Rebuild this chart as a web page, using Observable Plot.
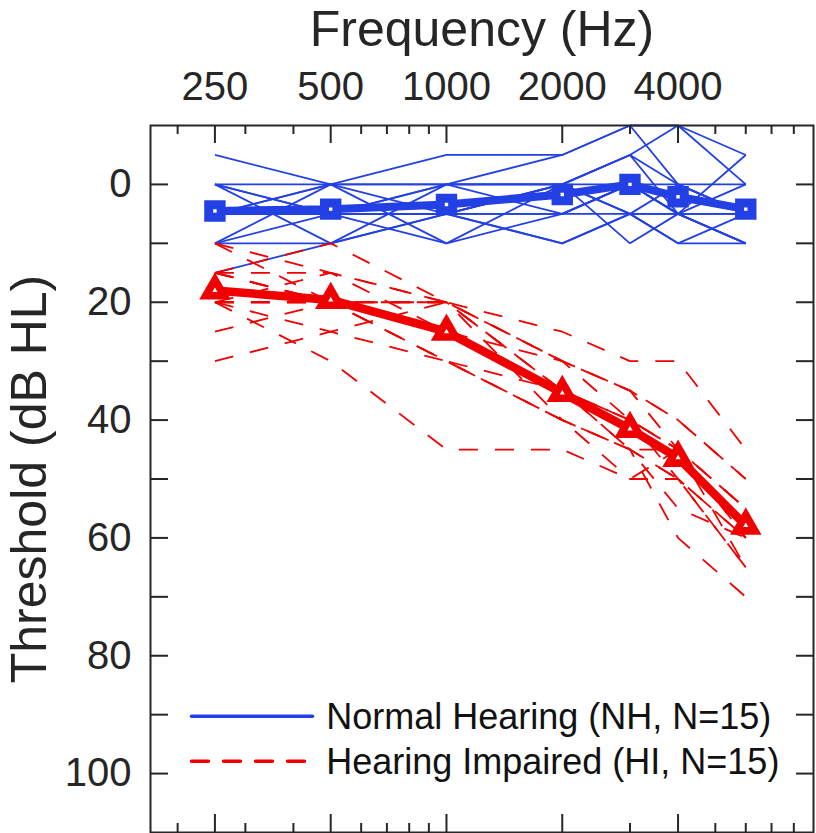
<!DOCTYPE html>
<html>
<head>
<meta charset="utf-8">
<script src="https://cdn.jsdelivr.net/npm/d3@7"></script>
<script src="https://cdn.jsdelivr.net/npm/@observablehq/plot@0.6"></script>
<style>
  html, body { margin: 0; padding: 0; background: #fff; }
  #chart svg { display: block; }
</style>
</head>
<body>
<div id="chart"></div>
<script>
// ---- data ----
const frequencies = [250, 500, 1000, 2000, 3000, 4000, 6000];
const xTickLabels = [250, 500, 1000, 2000, 4000];
const xMinorTicks = [200, 300, 400, 600, 700, 800, 900, 3000, 5000, 6000, 7000, 8000];
const yTickLabels = [0, 20, 40, 60, 80, 100];
const yTicks = [0, 10, 20, 30, 40, 50, 60, 70, 80, 90, 100];

const nhMean = [4.5, 4.2, 3.4, 1.7, 0.0, 2.1, 4.2];
const hiMean = [18.0, 19.6, 25.0, 35.4, 41.5, 46.4, 57.9];

const nhSubjects = [
  [-5, 0, -5, -5, -10, -10, -5],
  [0, 0, 0, 0, -5, -10, 0],
  [0, 10, 0, 5, 0, 5, 10],
  [5, 0, 0, -5, -10, 0, 5],
  [5, 5, 5, 0, 5, 5, 5],
  [5, 5, 5, 5, 0, 0, 0],
  [5, 5, 5, 10, 5, 5, 10],
  [10, 0, 5, 0, 10, 5, 10],
  [10, 10, 5, 5, 0, 5, 5],
  [10, 5, 5, 10, 5, 0, 5],
  [15, 10, 5, 0, -5, 5, 0],
  [0, 5, 10, 5, 5, 10, 10],
  [0, 5, 0, 0, 0, 5, -5],
  [5, 0, 10, 0, 5, 10, 5],
  [5, 5, 0, 0, -5, 0, 5]
];

const hiSubjects = [
  [15, 10, 20, 25, 30, 30, 45],
  [10, 15, 20, 30, 35, 40, 50],
  [15, 15, 20, 30, 35, 45, 55],
  [20, 15, 25, 30, 40, 45, 55],
  [20, 20, 20, 35, 40, 45, 60],
  [20, 20, 25, 35, 40, 50, 60],
  [15, 20, 20, 35, 45, 50, 60],
  [15, 20, 20, 40, 45, 50, 65],
  [20, 20, 30, 40, 45, 55, 60],
  [15, 20, 30, 40, 50, 50, 65],
  [20, 30, 45, 45, 50, 45, 55],
  [30, 25, 30, 40, 45, 60, 70],
  [10, 20, 20, 30, 35, 40, 50],
  [20, 25, 20, 35, 40, 45, 60],
  [25, 20, 30, 35, 45, 45, 65]
];

const legendLabels = ["Normal Hearing (NH, N=15)", "Hearing Impaired (HI, N=15)"];
const titleText = "Frequency (Hz)";
const yLabelText = "Threshold (dB HL)";

// ---- tidy rows ----
const toRows = (subjects) => subjects.flatMap((s, i) => s.map((v, j) => ({id: i, f: frequencies[j], t: v})));
const nhRows = toRows(nhSubjects);
const hiRows = toRows(hiSubjects);
const nhMeanRows = nhMean.map((v, j) => ({f: frequencies[j], t: v}));
const hiMeanRows = hiMean.map((v, j) => ({f: frequencies[j], t: v}));

// ---- layout ----
const W = 816, H = 833;
const mL = 150, mR = 3, mT = 125, mB = 1;
const frameW = W - mL - mR;
const frameH = H - mT - mB;
const ink = "#262626";
const blue = "#2240e4";
const red = "#f00000";
const font = "'Liberation Sans', Arial, Helvetica, sans-serif";

const lineShape = {draw(context, l) { context.moveTo(0, 0); context.lineTo(0, -l); }};

const chart = Plot.plot({
  width: W,
  height: H,
  marginLeft: mL,
  marginRight: mR,
  marginTop: mT,
  marginBottom: mB,
  style: {fontFamily: font, color: ink, background: "#fff", overflow: "visible"},
  x: {type: "log", domain: [170, 9000]},
  y: {domain: [-10, 110], reverse: true},
  marks: [
    // individual thresholds
    Plot.line(nhRows, {x: "f", y: "t", z: "id", stroke: blue, strokeWidth: 1.8, strokeLinejoin: "miter", strokeLinecap: "butt"}),
    Plot.line(hiRows, {x: "f", y: "t", z: "id", stroke: red, strokeWidth: 1.8, strokeDasharray: "19,17", strokeLinejoin: "miter", strokeLinecap: "butt"}),
    // group means
    Plot.line(nhMeanRows, {x: "f", y: "t", stroke: blue, strokeWidth: 8}),
    Plot.line(hiMeanRows, {x: "f", y: "t", stroke: red, strokeWidth: 8.5}),
    Plot.dot(nhMeanRows, {x: "f", y: "t", symbol: "square", r: 7, stroke: blue, strokeWidth: 9, fill: "white"}),
    Plot.dot(hiMeanRows, {x: "f", y: "t", symbol: "triangle", r: 6.8, stroke: red, strokeWidth: 7.6, fill: "white"}),
    // frame
    Plot.frame({stroke: ink, strokeWidth: 2}),
    // inward ticks: top
    Plot.tickX(xTickLabels, {x: d => d, insetBottom: frameH - 18, stroke: ink, strokeWidth: 2}),
    Plot.tickX(xMinorTicks, {x: d => d, insetBottom: frameH - 9, stroke: ink, strokeWidth: 2}),
    // bottom
    Plot.tickX(xTickLabels, {x: d => d, insetTop: frameH - 18, stroke: ink, strokeWidth: 2}),
    Plot.tickX(xMinorTicks, {x: d => d, insetTop: frameH - 9, stroke: ink, strokeWidth: 2}),
    // left / right
    Plot.tickY(yTicks, {y: d => d, insetRight: frameW - 18, stroke: ink, strokeWidth: 2}),
    Plot.tickY(yTicks, {y: d => d, insetLeft: frameW - 17, stroke: ink, strokeWidth: 2}),
    // axes labels
    Plot.axisX({anchor: "top", ticks: xTickLabels, tickSize: 0, tickPadding: 26, fontSize: 40, tickFormat: d => String(d), label: null, fill: ink}),
    Plot.axisY({anchor: "left", ticks: yTickLabels, tickSize: 0, tickPadding: 19, fontSize: 40, tickFormat: d => String(d), label: null, fill: ink}),
    Plot.text([titleText], {frameAnchor: "top", dy: -79.5, lineAnchor: "bottom", textAnchor: "middle", fontSize: 50, fill: ink}),
    Plot.text([yLabelText], {frameAnchor: "left", dx: -104.5, rotate: -90, lineAnchor: "bottom", textAnchor: "middle", fontSize: 50, fill: ink}),
    // legend
    Plot.vector([0], {frameAnchor: "bottom-left", dx: 41, dy: -116.3, rotate: 90, length: 121, anchor: "start", shape: lineShape, stroke: blue, strokeWidth: 3.5}),
    Plot.vector([0], {frameAnchor: "bottom-left", dx: 41, dy: -71.3, rotate: 90, length: 114, anchor: "start", shape: lineShape, stroke: red, strokeWidth: 3.5, strokeDasharray: "17,15"}),
    Plot.text([legendLabels[0]], {frameAnchor: "bottom-left", dx: 175.7, dy: -104, lineAnchor: "bottom", textAnchor: "start", fontSize: 36, fill: "#111"}),
    Plot.text([legendLabels[1]], {frameAnchor: "bottom-left", dx: 175.7, dy: -59, lineAnchor: "bottom", textAnchor: "start", fontSize: 36, fill: "#111"})
  ]
});

document.getElementById("chart").appendChild(chart);
</script>
</body>
</html>
